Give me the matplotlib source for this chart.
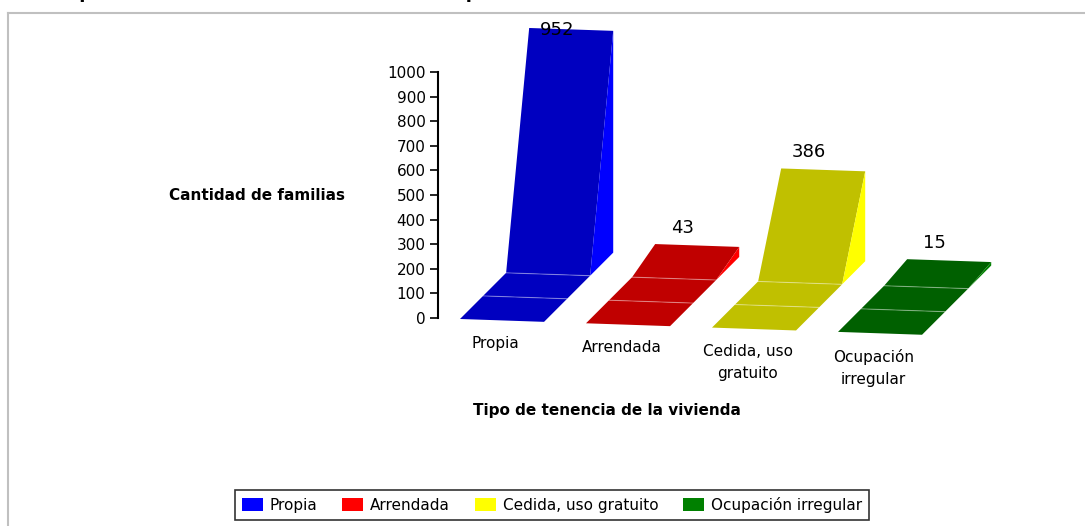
import matplotlib
matplotlib.use('Agg')
import matplotlib.pyplot as plt
from matplotlib.patches import Polygon, Patch
from matplotlib.lines import Line2D

plt.rcParams['font.family'] = ['DejaVu Sans']

### chart data
categories = ['Propia', 'Arrendada', 'Cedida, uso\ngratuito', 'Ocupación\nirregular']
legend_names = ['Propia', 'Arrendada', 'Cedida, uso gratuito', 'Ocupación irregular']
values = [952, 43, 386, 15]
face_colors = ['#0000C0', '#C00000', '#C0C000', '#006000']
side_colors = ['#0000FF', '#FF0000', '#FFFF00', '#008000']
legend_colors = ['#0000FF', '#FF0000', '#FFFF00', '#008000']
yticks = [0, 100, 200, 300, 400, 500, 600, 700, 800, 900, 1000]

title = 'Composición de la tenencia de la vivienda por familias en el sector durante el año 2007'
ylabel = 'Cantidad de familias'
xlabel = 'Tipo de tenencia de la vivienda'

# fake 3d ribbon geometry (in axis units)
W = 0.667      # ribbon width
DX = 0.183     # depth step, x
DY = 97.0      # depth step, y
K = 0.947      # height scale at the back
BASE = -4.0
TILT = 17.5


def proj(i, u, d, h):
    x = i + u * W + d * DX
    y = BASE - TILT * x + d * DY + h * K
    return (x, y)


W_PX, H_PX = 1085, 526
fig = plt.figure(figsize=(W_PX / 100, H_PX / 100), dpi=100)

ax = fig.add_axes([438 / W_PX, (H_PX - 318) / H_PX, 562 / W_PX, 246 / H_PX])
ax.set_xlim(-22 / 126, 540 / 126)
ax.set_ylim(0, 1000)
ax.patch.set_alpha(0)
for s in ['top', 'right', 'bottom']:
    ax.spines[s].set_visible(False)
ax.spines['left'].set_linewidth(1.5)
ax.set_xticks([])
ax.set_yticks(yticks)
ax.tick_params(axis='y', length=6, width=1.2, labelsize=11, pad=3)

for i, v in enumerate(values):
    fc = face_colors[i]
    # floor panels (depth 0 -> 2) and rising panel (2 -> 3)
    prof = [(0, 0), (1, 0), (2, 0), (3, v)]
    for (d0, h0), (d1, h1) in zip(prof[:-1], prof[1:]):
        pts = [proj(i, 0, d0, h0), proj(i, 1, d0, h0), proj(i, 1, d1, h1), proj(i, 0, d1, h1)]
        ax.add_patch(Polygon(pts, closed=True, facecolor=fc, edgecolor='none', clip_on=False))
    # crease lines
    for d in [1, 2]:
        a, b = proj(i, 0, d, 0), proj(i, 1, d, 0)
        ax.plot([a[0], b[0]], [a[1], b[1]], color='white', alpha=0.35, lw=0.8, clip_on=False)
    # side face
    side = [proj(i, 1, 2, 0), proj(i, 1, 3, 0), proj(i, 1, 3, v)]
    ax.add_patch(Polygon(side, closed=True, facecolor=side_colors[i], edgecolor='none', clip_on=False))
    # value label
    tx, ty = proj(i, 0, 3, v)
    ax.text(tx + 0.22, min(ty + 65, 1171), str(v), ha='center', va='center',
            fontsize=13, clip_on=False)
    # category label
    cx, cy = proj(i, 0.5, 0, 0)
    ax.text(cx - 0.05, cy - 62, categories[i], ha='center', va='top', fontsize=11,
            linespacing=1.6, clip_on=False)

fig.text(257 / W_PX, 1 - 195 / H_PX, ylabel, ha='center', va='center',
         fontsize=11, fontweight='bold')
fig.text(607 / W_PX, 1 - 411 / H_PX, xlabel, ha='center', va='center',
         fontsize=11, fontweight='bold')

# title, clipped at the top of the picture
fig.text(35 / W_PX, 1 + 1.5 / H_PX, title, ha='left', va='baseline',
         fontsize=13, fontweight='bold')

# outer chart frame (left and top only)
fig.add_artist(Line2D([8 / W_PX, 8 / W_PX], [0, 1 - 13 / H_PX], color='#c0c0c0', lw=1.5))
fig.add_artist(Line2D([8 / W_PX, 1], [1 - 13 / H_PX, 1 - 13 / H_PX], color='#c0c0c0', lw=1.5))

handles = [Patch(facecolor=c, edgecolor='none') for c in legend_colors]
leg = fig.legend(handles, legend_names, loc='center', bbox_to_anchor=(552 / W_PX, 1 - 505 / H_PX),
                 ncol=4, fontsize=11, frameon=True, fancybox=False, handlelength=1.4,
                 handleheight=0.9, handletextpad=0.45, columnspacing=1.6, borderpad=0.45)
leg.get_frame().set_edgecolor('black')
leg.get_frame().set_linewidth(1.2)

fig.savefig('out.png', dpi=100)
